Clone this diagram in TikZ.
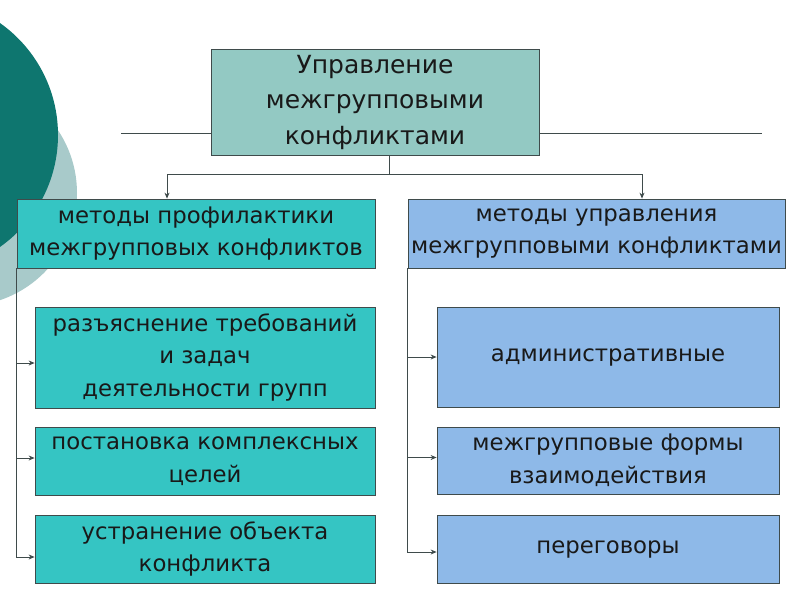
\documentclass[tikz,border=0pt]{standalone}
\usepackage{fontspec}
\setmainfont{DejaVu Sans}
\usepackage{tikz}
\usetikzlibrary{arrows.meta}

\definecolor{darkteal}{HTML}{0E766F}
\definecolor{paleteal}{HTML}{A8CACA}
\definecolor{topfill}{HTML}{93C9C3}
\definecolor{tealfill}{HTML}{35C5C3}
\definecolor{bluefill}{HTML}{8EB9E8}
\definecolor{edgegray}{HTML}{3F4B4B}

\begin{document}
\begin{tikzpicture}[x=1pt,y=-1pt,
  box/.style={draw=edgegray,line width=0.8pt,align=center,inner sep=0pt,
    text=black!90,font=\fontsize{22.8}{32.5}\selectfont},
  topbox/.style={box,fill=topfill,minimum width=328pt,minimum height=106pt,
    font=\fontsize{25}{35.5}\selectfont},
  tealbox/.style={box,fill=tealfill},
  bluebox/.style={box,fill=bluefill},
  link/.style={draw=edgegray,line width=0.8pt},
  arr/.style={link,-{Stealth[length=6pt,width=5pt]}}]
  \useasboundingbox (0,0) rectangle (800,600);
  \clip (0,0) rectangle (800,600);
  \fill[white] (0,0) rectangle (800,600);
  % background circles
  \fill[paleteal] (-36,193) circle [radius=113pt];
  \fill[darkteal] (-79,135) circle [radius=137pt];

  \node[topbox] (top) at (375,102) {Управление\\межгрупповыми\\конфликтами};

  \node[tealbox,minimum width=358pt,minimum height=69pt] (lhead) at (196,233.5)
    {методы профилактики\\межгрупповых конфликтов};
  \node[bluebox,minimum width=377pt,minimum height=69pt] (rhead) at (596.5,233.5)
    {методы управления\\межгрупповыми конфликтами};

  \node[tealbox,minimum width=340pt,minimum height=101pt] (l1) at (205,357.5)
    {разъяснение требований\\и задач\\деятельности групп};
  \node[tealbox,minimum width=340pt,minimum height=68pt] (l2) at (205,461)
    {постановка комплексных\\целей};
  \node[tealbox,minimum width=340pt,minimum height=68pt] (l3) at (205,549)
    {устранение объекта\\конфликта};

  \node[bluebox,minimum width=342pt,minimum height=100pt] (r1) at (608,357)
    {административные};
  \node[bluebox,minimum width=342pt,minimum height=67pt] (r2) at (608,460.5)
    {межгрупповые формы\\взаимодействия};
  \node[bluebox,minimum width=342pt,minimum height=68pt] (r3) at (608,549)
    {переговоры};

  % side lines and fork
  \coordinate (tl) at (121,133);
  \coordinate (tr) at (762,133);
  \coordinate (fork) at (389,174);
  \coordinate (la) at (167,174);
  \coordinate (ra) at (642,174);
  \draw[link] (tl) -- (tl -| top.west);
  \draw[link] (top.east |- tr) -- (tr);
  \draw[link] (fork |- top.south) -- (fork);
  \draw[link] (la) -- (ra);
  \draw[arr] (la) -- (la |- lhead.north);
  \draw[arr] (ra) -- (ra |- rhead.north);

  % branches
  \draw[arr] (lhead.south west) |- ([yshift=-5.5pt]l1.west);
  \draw[arr] (lhead.south west) |- ([yshift=3pt]l2.west);
  \draw[arr] (lhead.south west) |- ([yshift=-8pt]l3.west);
  \draw[arr] (rhead.south west) |- (r1.west);
  \draw[arr] (rhead.south west) |- ([yshift=3pt]r2.west);
  \draw[arr] (rhead.south west) |- ([yshift=-3pt]r3.west);
\end{tikzpicture}
\end{document}
